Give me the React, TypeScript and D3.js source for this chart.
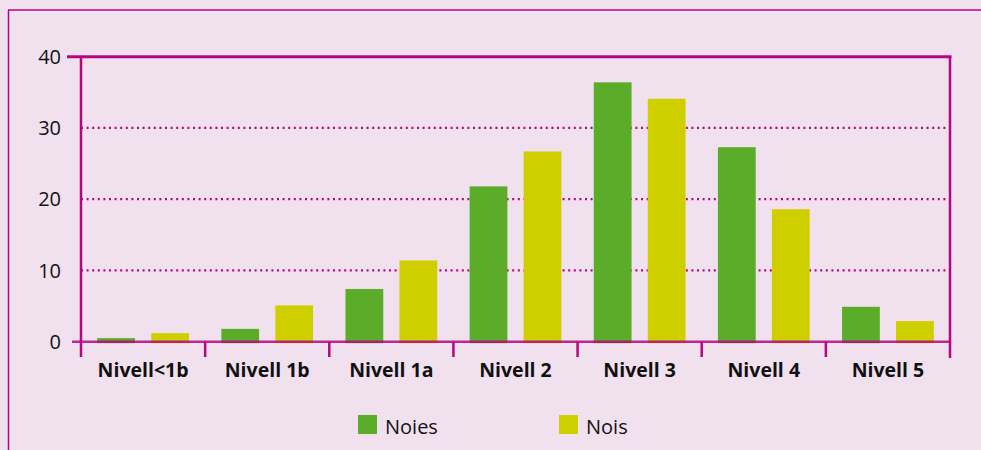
import React from "react";
import * as d3 from "d3";

const categories = ["Nivell<1b", "Nivell 1b", "Nivell 1a", "Nivell 2", "Nivell 3", "Nivell 4", "Nivell 5"];
const noies = [0.5, 1.8, 7.4, 21.8, 36.4, 27.3, 4.9];
const nois = [1.2, 5.1, 11.4, 26.7, 34.1, 18.6, 2.9];
const yTicks = [0, 10, 20, 30, 40];
const seriesNames = ["Noies", "Nois"];

const W = 981;
const H = 450;
const BG = "#f1e1ef";
const MAG = "#b4077f";
const GREEN = "#5bad29";
const YELLOW = "#cfcf00";
const FONT = "'Open Sans', 'DejaVu Sans', sans-serif";

const App = () => {
  const left = 81;
  const right = 950;
  const top = 56.7;
  const bottom = 341.7;

  const x = d3.scaleBand<string>().domain(categories).range([left, right]);
  const inner = d3.scaleBand<string>().domain(seriesNames).range([0, x.bandwidth()]).paddingInner(0.3).paddingOuter(0.3);
  const y = d3.scaleLinear().domain([0, 40]).range([bottom, top]);
  const colors = [GREEN, YELLOW];
  const series = [noies, nois];

  return (
    <svg width={W} height={H} style={{ position: "absolute", left: 0, top: 0 }}>
      <rect width={W} height={H} fill={BG} />
      {/* outer frame */}
      <line x1={8.5} x2={8.5} y1={10} y2={H} stroke={MAG} strokeWidth={1.5} />
      <line x1={8} x2={W} y1={10} y2={10} stroke={MAG} strokeWidth={1.5} />

      {/* dotted gridlines */}
      {yTicks.filter((t) => t > 0 && t < 40).map((t) => (
        <line key={t} x1={left} x2={right} y1={y(t)} y2={y(t)} stroke={MAG} strokeWidth={2.2} strokeDasharray="2 3.6" />
      ))}

      {/* bars */}
      {series.map((vals, si) =>
        vals.map((v, i) => (
          <rect
            key={si + "-" + i}
            x={x(categories[i])! + inner(seriesNames[si])!}
            y={y(v)}
            width={inner.bandwidth()}
            height={y(0) - y(v) + 1.5}
            fill={colors[si]}
          />
        ))
      )}

      {/* axes */}
      <line x1={67} x2={right + 1.5} y1={top} y2={top} stroke={MAG} strokeWidth={3} />
      <line x1={72} x2={right} y1={bottom} y2={bottom} stroke={MAG} strokeWidth={2.5} strokeOpacity={0.85} />
      <line x1={left} x2={left} y1={top} y2={357} stroke={MAG} strokeWidth={2.5} />
      <line x1={right} x2={right} y1={top} y2={358} stroke={MAG} strokeWidth={2.5} />
      {categories.slice(1).map((c) => (
        <line key={c} x1={x(c)!} x2={x(c)!} y1={bottom} y2={357} stroke={MAG} strokeWidth={2.5} />
      ))}

      {/* y tick labels */}
      {yTicks.map((t) => (
        <text key={t} x={61} y={y(t)} dy="0.36em" textAnchor="end" fontFamily={FONT} fontSize={20} fill="#111">
          {t}
        </text>
      ))}

      {/* category labels */}
      {categories.map((c) => (
        <text key={c} x={x(c)! + x.bandwidth() / 2} y={377} textAnchor="middle" fontFamily={FONT} fontSize={19.5} fontWeight="bold" fill="#111">
          {c}
        </text>
      ))}

      {/* legend */}
      {seriesNames.map((s, i) => {
        const lx = i === 0 ? 358 : 559;
        return (
          <g key={s}>
            <rect x={lx} y={415} width={19} height={19} fill={colors[i]} />
            <text x={lx + 27} y={434} fontFamily={FONT} fontSize={20} fill="#111">
              {s}
            </text>
          </g>
        );
      })}
    </svg>
  );
};

export default App;
